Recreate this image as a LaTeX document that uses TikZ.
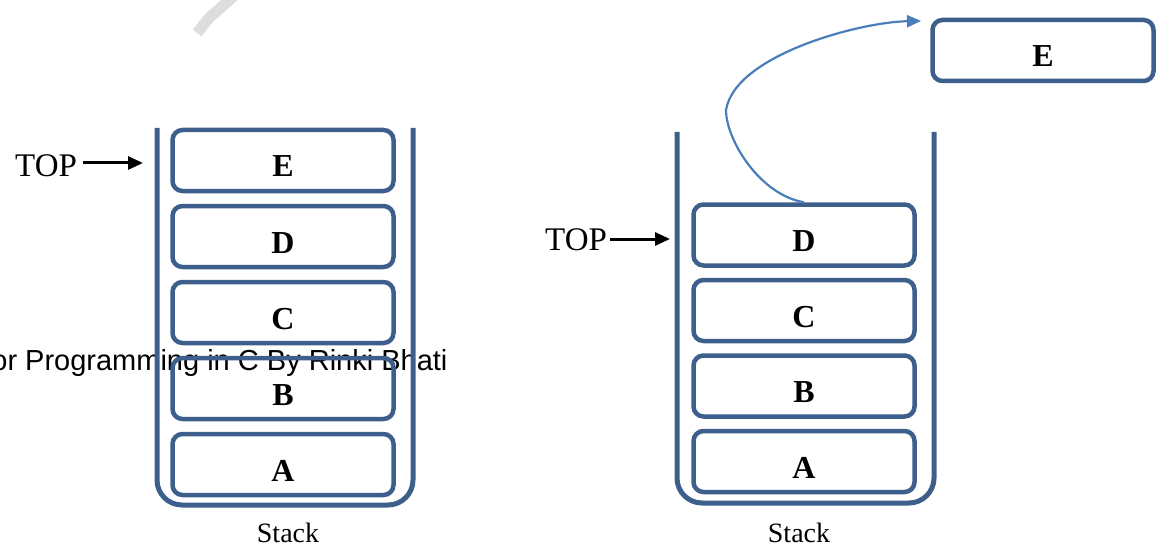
\documentclass[tikz,border=0pt]{standalone}
\usepackage{fontspec}
\setmainfont{Liberation Serif}
\newfontfamily\arialfont{Liberation Sans}
\usetikzlibrary{arrows.meta}
\definecolor{stackblue}{RGB}{61,95,140}
\definecolor{arrowblue}{RGB}{74,126,187}
\definecolor{wmgray}{RGB}{221,221,221}
\tikzset{
  cell/.style={draw=stackblue, line width=4.5pt, rounded corners=10pt,
    minimum width=221pt, minimum height=61pt, inner sep=0pt,
    text height=33pt, text depth=0pt,
    font=\fontsize{32}{32}\selectfont\bfseries},
  container/.style={draw=stackblue, line width=5pt, rounded corners=25pt},
  toplabel/.style={inner sep=0pt, anchor=base west, font=\fontsize{33}{33}\selectfont},
  toparrow/.style={draw=black, line width=3pt, -{Triangle[length=15pt,width=13pt]}},
  poparrow/.style={draw=arrowblue, line width=2.2pt, -{Triangle[length=14pt,width=12pt]}},
  caption/.style={inner sep=0pt, anchor=base, font=\fontsize{28}{28}\selectfont},
}
\begin{document}
\begin{tikzpicture}[x=1pt,y=-1pt]
\useasboundingbox (0,0) rectangle (1158,548);
% watermark stroke
\draw[wmgray, line width=11pt] (197,33) -- (209,18) -- (234,-4);
% overlay text
\node[inner sep=0pt, anchor=base west, font=\arialfont\fontsize{29}{29}\selectfont] (wm) at (-8.8,370) {or Programming in C By Rinki Bhati};

% left stack container
\draw[container] (157,128) -- (157,505) -- (413,505) -- (413,128);
\node[cell] (lE) at (283,160.5) {E};
\node[cell] (lD) at (283,236.5) {D};
\node[cell] (lC) at (283,312.5) {C};
\node[cell] (lB) at (283,388.5) {B};
\node[cell] (lA) at (283,464.5) {A};
\node[toplabel] (top1) at (15,177) {TOP};
\coordinate (t1) at (143,163);
\draw[toparrow] (top1.east |- t1) ++(6,0) -- (t1);
\node[caption] (s1) at (288,542) {Stack};

% right stack container
\draw[container] (677,132) -- (677,503) -- (934,503) -- (934,132);
\node[cell] (rD) at (804,235) {D};
\node[cell] (rC) at (804,310.5) {C};
\node[cell] (rB) at (804,386) {B};
\node[cell] (rA) at (804,461.5) {A};
\node[toplabel] (top2) at (545,250) {TOP};
\coordinate (t2) at (670,239);
\draw[toparrow] (top2.east |- t2) ++(3,0) -- (t2);
\node[caption] (s2) at (799,542) {Stack};

% popped element
\node[cell] (pE) at (1043,50.5) {E};
\coordinate (tip) at (921,21);
\draw[poparrow] (rD.north) .. controls (760,195) and (726,140) .. (726,110)
  .. controls (735,55) and (860,22) .. (tip);
\end{tikzpicture}
\end{document}
